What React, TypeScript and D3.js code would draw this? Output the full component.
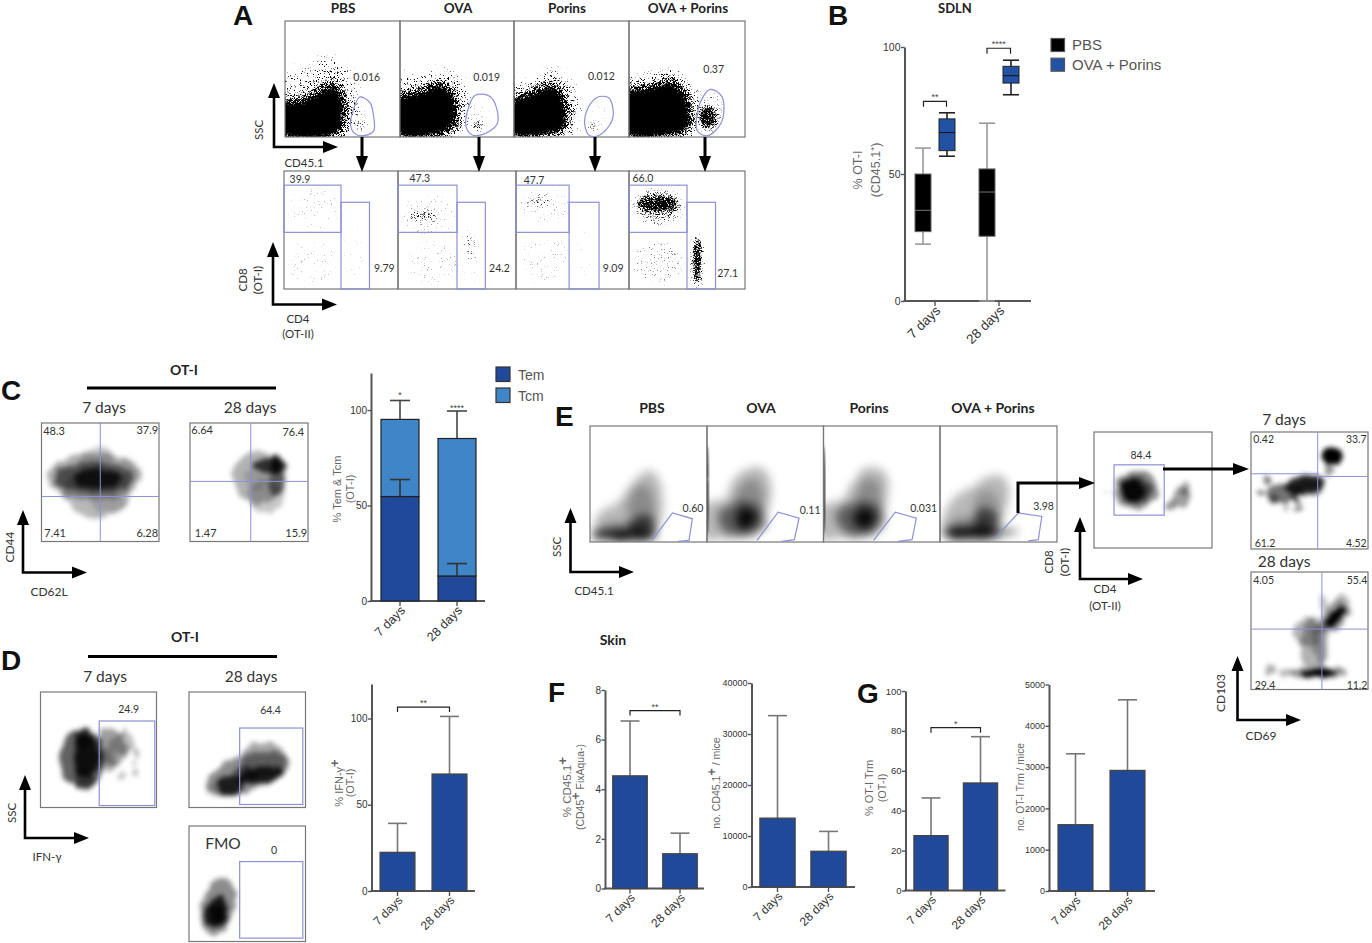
import React, { useEffect, useRef } from 'react';
import * as d3 from 'd3';

// --- values ---
const days = ['7 days', '28 days'];
const boxGroups = ['PBS', 'OVA + Porins'];
// [whisker low, q1, median, q3, whisker high]
const boxPbs = [[22.4, 27.3, 35.7, 50, 60.2], [0, 25.5, 42.9, 52, 70]];
const boxOvaPorins = [[57, 59.2, 66.3, 71.7, 74.1], [81.2, 85.8, 88.7, 92.4, 94.8]];

const temMean = [54.7, 13.1];
const temErr = [63.6, 19.6];
const tcmTop = [95.1, 85.1];
const tcmErr = [105, 99.5];

const ifnMean = [22.4, 67.8];
const ifnErr = [39.2, 101.2];
const cd45PctMean = [4.54, 1.4];
const cd45PctErr = [6.75, 2.23];
const cd45NoMean = [13500, 7000];
const cd45NoErr = [33600, 10900];
const trmPctMean = [27.5, 53.9];
const trmPctErr = [46.4, 77.1];
const trmNoMean = [1605, 2919];
const trmNoErr = [3322, 4629];

// flow plots: all in percent of the plot axes. blob = [cx, cy, rx, ry, weight, rotation]
type Blob = number[];
type Poly = { w: number; pts: number[][] };

const aHalos: Poly[] = [
  { w: 0.3, pts: [[-5, 1], [-5, 52], [18, 58], [35, 68], [52, 60], [62, 38], [60, 6], [50, 1]] },
  { w: 0.3, pts: [[-5, 1], [-5, 50], [20, 53], [37, 58], [52, 50], [60, 34], [55, 5], [40, 1]] },
  { w: 0.3, pts: [[-5, 1], [-5, 46], [18, 50], [35, 58], [48, 48], [56, 30], [52, 5], [35, 1]] },
  { w: 0.3, pts: [[-5, 1], [-5, 50], [18, 52], [35, 58], [50, 50], [60, 30], [58, 5], [44, 1]] },
];
const aCores: Poly[] = [
  { w: 1, pts: [[-5, 1], [-5, 30], [11, 32], [25, 38], [40, 47], [47, 44], [52, 33], [52, 13], [47, 1]] },
  { w: 1, pts: [[-5, 1], [-5, 33], [17, 40], [35, 47], [47, 40], [51, 22], [48, 8], [38, 1]] },
  { w: 1, pts: [[-5, 1], [-5, 30], [17, 40], [33, 47], [43, 37], [47, 19], [46, 6], [34, 1]] },
  { w: 1, pts: [[-5, 1], [-5, 40], [17, 44], [35, 50], [48, 40], [54, 22], [53, 6], [43, 1]] },
];
const aSpots: Blob[][] = [
  [[65, 10, 7, 4, 0.32], [66, 16, 8, 12, 0.1]],
  [[68, 10, 5, 4, 0.6], [69, 16, 9, 12, 0.12]],
  [[69, 9, 5, 5, 0.38], [72, 18, 8, 12, 0.1]],
  [[68, 17, 8, 10, 1], [70, 22, 11, 18, 0.25]],
];
const aTopGates = [
  [[65, 34.5], [74, 29.5], [77, 18], [77, 5], [67, 1], [60, 3.5], [57, 11], [60, 25]],
  [[66, 36], [79, 35], [85, 24], [85, 10.7], [72, 2], [63, 2], [58, 9], [60, 25]],
  [[72, 34], [82, 34], [86, 25], [85, 13.6], [75, 2], [66, 1], [62, 8], [63, 22]],
  [[70, 41], [80, 35], [81, 16.5], [75, 6], [67, 1], [59, 5], [58, 13.6], [62.5, 32]],
];
const aTopValues = ['0.016', '0.019', '0.012', '0.37'];
const aTopValuePos = [[71, 51], [76, 51], [76, 52], [73, 58]];

const aLow: Blob[][] = [
  [[28, 68, 24, 18, 0.1], [25, 22, 22, 20, 0.1], [62, 30, 10, 25, 0.07]],
  [[22, 62, 13, 5, 0.4], [26, 62, 23, 18, 0.13], [30, 22, 22, 18, 0.13], [62, 38, 7, 12, 0.3], [60, 18, 8, 14, 0.1]],
  [[19, 75, 12, 5, 0.3], [25, 70, 23, 14, 0.12], [25, 25, 22, 20, 0.12], [60, 30, 8, 20, 0.07]],
  [[25, 72, 17, 7, 1.1], [25, 70, 22, 15, 0.4], [25, 22, 22, 18, 0.2], [59, 25, 3.5, 20, 1], [59, 22, 6, 24, 0.3]],
];
const aCd8Width = [50, 50, 47, 50];
const aCd4Right = [75, 74, 73.5, 74.6];
const aLowValues = [['39.9', '9.79'], ['47.3', '24.2'], ['47.7', '9.09'], ['66.0', '27.1']];
const aLowValuePos = [[[14, 93], [88, 17.5]], [[18.5, 93.5], [86, 17]], [[16, 92], [86, 17]], [[12, 93.5], [85, 13.5]]];

const c7d: Blob[] = [[45, 55, 40, 20, 0.32], [47, 42, 28, 22, 0.28], [45, 54, 33, 13, 0.5], [48, 53, 21, 8, 0.75], [18, 55, 7, 9, 0.15], [76, 60, 9, 9, 0.15], [58, 32, 14, 8, 0.15], [48, 72, 14, 8, 0.2]];
const c28d: Blob[] = [[58, 54, 22, 22, 0.3], [64, 38, 14, 14, 0.22], [67, 64, 15, 6, 0.75], [73, 66, 6, 7, 0.85], [74, 50, 7, 11, 0.5], [56, 54, 10, 10, 0.15]];
const d7d: Blob[] = [[36, 42, 19, 26, 0.62], [39, 45, 11, 19, 0.85], [38, 24, 9, 9, 0.5], [38, 60, 8, 8, 0.5], [60, 52, 14, 16, 0.38], [70, 55, 12, 9, 0.25],
  [84, 48, 3, 3, 0.3], [82, 40, 2.5, 2.5, 0.3], [81, 30, 2.5, 2.5, 0.3], [70, 27, 2.5, 2.5, 0.25], [72, 65, 2, 4, 0.22], [57, 40, 9, 10, 0.3]];
const d28d: Blob[] = [[50, 30, 38, 15, 0.45, -18], [64, 42, 20, 15, 0.35], [35, 20, 11, 8, 0.8], [62, 28, 19, 7, 0.8, -10], [48, 28, 11, 9, 0.5], [22, 15, 10, 5, 0.2]];
const dFmo: Blob[] = [[25, 30, 14, 25, 0.45, 15], [24, 25, 10, 14, 0.85, 15], [24, 24, 6, 9, 0.8]];

const eCloudPbs: Poly[] = [{ w: 0.28, pts: [[4, 3], [8, 25], [24, 34], [35, 49], [52, 62], [61, 48], [60, 16], [54, 2]] }];
const eCloudOva: Poly[] = [{ w: 0.28, pts: [[-3, 3], [-3, 32], [16, 38], [23, 54], [40, 65], [53, 58], [52, 25], [42, 6], [17, 3]] }];
const eCloudPorins: Poly[] = [{ w: 0.28, pts: [[-3, 3], [-3, 32], [15, 36], [27, 54], [39, 65], [54, 58], [52, 25], [41, 6], [16, 3]] }];
const eCloudBoth: Poly[] = [{ w: 0.28, pts: [[4, 3], [7, 32], [25, 46], [49, 58], [59, 48], [53, 16], [50, 3]] }];
const eBlobs: Blob[][] = [
  [[28, 6, 26, 4, 0.95], [45, 12, 12, 11, 0.65], [44, 30, 11, 20, 0.25], [25, 10, 20, 7, 0.3]],
  [[33, 20, 9, 9, 0.9], [30, 20, 21, 15, 0.5], [37, 38, 11, 17, 0.25]],
  [[35, 20, 9, 9, 0.9], [32, 20, 21, 15, 0.5], [39, 38, 11, 17, 0.25]],
  [[26, 8, 24, 5, 0.95], [39, 18, 11, 12, 0.6], [40, 30, 11, 15, 0.2], [57, 8, 10, 3, 0.5, -10], [25, 14, 18, 8, 0.25]],
];
const eBars: Blob[][] = [[], [[0.3, 45, 0.9, 38, 1]], [[0.3, 45, 0.9, 38, 1]], []];
const eGates = [
  [[53, 1.4], [70.5, 25], [87.5, 20], [84.6, 1.4], [75.4, 0.5]],
  [[43, 1.4], [61, 25.7], [79, 20.6], [75, 2], [64, 0.5]],
  [[43, 1.4], [61.6, 25.7], [79.7, 20.6], [76, 2], [64, 0.5]],
  [[47, 3.4], [67, 25], [87, 22], [84, 2], [75.4, 1]],
];
const eValues = ['0.60', '0.11', '0.031', '3.98'];
const eValuePos = [[88, 29], [88.5, 27], [86, 29], [88.5, 31]];
const eMid: Blob[] = [[36, 50, 19, 16, 0.45], [33, 50, 10, 10, 0.9], [35, 50, 14, 12, 0.55], [74, 44, 8, 9, 0.38], [77, 51, 4, 5, 0.35], [66, 36, 5, 4, 0.4], [12, 48, 1.2, 1.2, 0.3]];
const e7d: Blob[] = [[69, 80, 9, 7, 1], [67.4, 67, 3, 6, 0.45], [46, 55, 17, 8, 0.85, -10], [28, 48, 15, 8, 0.55, -5], [50, 52, 12, 7, 0.4],
  [12.7, 59, 3, 3.5, 0.55], [8.8, 49, 3, 3, 0.55], [29, 35.7, 2.5, 2.5, 0.45], [40.5, 35, 2.5, 2.5, 0.5], [37.4, 43, 3.5, 4.5, 0.65], [20, 42, 4, 4, 0.55]];
const e28d: Blob[] = [[72, 62, 12, 4.5, 1, -45], [71, 62, 16, 9, 0.4, -45], [57.5, 14, 16, 3.5, 1], [57, 14, 24, 5, 0.4], [53, 36, 11, 24, 0.3],
  [48, 48, 11, 12, 0.3], [62, 73, 4, 6, 0.25], [78, 76, 6, 4, 0.28], [60, 40, 7, 18, 0.25], [16, 15.6, 4.5, 4.5, 0.32], [31, 14, 6, 2.5, 0.28]];

// --- helpers ---
const FLOW_FONT = 'Lato, sans-serif';
const CHART_FONT = '"Liberation Sans", Arial, sans-serif';
const GATE = '#8d90d6';
const BLUE = '#21499a';
const SKY = '#3f85c8';

type Sel = d3.Selection<any, any, any, any>;
let clipId = 0;

function addGrain(defs: Sel, id: string, sigma: number, seed: number, slope: number) {
  const f = defs.append('filter').attr('id', id).attr('x', '-40%').attr('y', '-40%').attr('width', '180%').attr('height', '180%')
    .attr('color-interpolation-filters', 'sRGB');
  f.append('feGaussianBlur').attr('in', 'SourceAlpha').attr('stdDeviation', sigma).attr('result', 'blur');
  f.append('feTurbulence').attr('type', 'fractalNoise').attr('baseFrequency', 1.7).attr('numOctaves', 1).attr('seed', seed).attr('result', 'raw');
  f.append('feColorMatrix').attr('in', 'raw').attr('type', 'matrix')
    .attr('values', '0 0 0 0 0  0 0 0 0 0  0 0 0 0 0  2.2 0 0 0 -0.6').attr('result', 'noise');
  f.append('feComposite').attr('in', 'blur').attr('in2', 'noise').attr('operator', 'arithmetic')
    .attr('k1', 0).attr('k2', 1).attr('k3', 1).attr('k4', -1).attr('result', 'mix');
  const t = f.append('feComponentTransfer').attr('in', 'mix');
  t.append('feFuncA').attr('type', 'linear').attr('slope', slope).attr('intercept', 0);
}

function addLumpy(defs: Sel, id: string, sigma: number, warp: number) {
  const f = defs.append('filter').attr('id', id).attr('x', '-40%').attr('y', '-40%').attr('width', '180%').attr('height', '180%')
    .attr('color-interpolation-filters', 'sRGB');
  f.append('feTurbulence').attr('type', 'fractalNoise').attr('baseFrequency', 0.09).attr('numOctaves', 2).attr('seed', 5).attr('result', 'warp');
  f.append('feDisplacementMap').attr('in', 'SourceGraphic').attr('in2', 'warp').attr('scale', warp)
    .attr('xChannelSelector', 'R').attr('yChannelSelector', 'G').attr('result', 'moved');
  f.append('feGaussianBlur').attr('in', 'moved').attr('stdDeviation', sigma);
}

function addSolid(defs: Sel, id: string) {
  const f = defs.append('filter').attr('id', id).attr('x', '-40%').attr('y', '-40%').attr('width', '180%').attr('height', '180%');
  f.append('feMorphology').attr('in', 'SourceGraphic').attr('operator', 'erode').attr('radius', 4).attr('result', 'thin');
  f.append('feGaussianBlur').attr('in', 'thin').attr('stdDeviation', 1.5);
}

function txt(svg: Sel, x: number, y: number, s: string, size: number, opts: any = {}) {
  return svg.append('text').attr('x', x).attr('y', y).attr('text-anchor', opts.anchor || 'middle')
    .attr('font-family', opts.font || FLOW_FONT).attr('font-size', size)
    .attr('font-weight', opts.weight || 'normal').attr('fill', opts.fill || '#333').text(s);
}

function rotated(svg: Sel, x: number, y: number, s: string, size: number, opts: any = {}) {
  const t = svg.append('text').attr('transform', `translate(${x},${y}) rotate(-90)`).attr('text-anchor', 'middle')
    .attr('font-family', opts.font || FLOW_FONT).attr('font-size', size).attr('fill', opts.fill || '#333');
  s.split('^').forEach((part, i) => {
    if (i > 0) {
      t.append('tspan').attr('dy', -4).attr('font-weight', 'bold').attr('font-size', size + 2).text('+');
      t.append('tspan').attr('dy', 4).text(part.slice(1));
    } else t.append('tspan').text(part);
  });
  return t;
}

function lArrow(svg: Sel, ox: number, oy: number, top: number, right: number) {
  svg.append('path').attr('d', `M${ox},${top + 10}V${oy}H${right - 10}`).attr('fill', 'none').attr('stroke', '#000').attr('stroke-width', 2.6);
  svg.append('path').attr('d', `M${ox},${top}l6,15h-12z M${right},${oy}l-15,-6v12z`).attr('fill', '#000');
}

function downArrow(svg: Sel, x: number, y0: number, y1: number) {
  svg.append('path').attr('d', `M${x},${y0}V${y1 - 10}`).attr('stroke', '#000').attr('stroke-width', 3);
  svg.append('path').attr('d', `M${x},${y1}l-6,-16h12z`).attr('fill', '#000');
}

function rightArrow(svg: Sel, d: string, tipX: number, tipY: number) {
  svg.append('path').attr('d', d).attr('fill', 'none').attr('stroke', '#000').attr('stroke-width', 3);
  svg.append('path').attr('d', `M${tipX},${tipY}l-16,-6v12z`).attr('fill', '#000');
}

function flowPanel(svg: Sel, box: number[], cfg: any) {
  const [x0, x1, y0, y1] = box;
  const x = d3.scaleLinear().domain([0, 100]).range([x0, x1]);
  const y = d3.scaleLinear().domain([0, 100]).range([y1, y0]);
  const id = `clip${clipId++}`;
  svg.append('clipPath').attr('id', id).append('rect').attr('x', x0).attr('y', y0).attr('width', x1 - x0).attr('height', y1 - y0);
  const outer = svg.append('g').attr('clip-path', `url(#${id})`);
  const shapeLine = d3.line<number[]>().x(d => x(d[0])).y(d => y(d[1])).curve(d3.curveCatmullRomClosed);

  (cfg.layers || []).forEach((layer: any) => {
    const g = outer.append('g').attr('filter', `url(#${layer.filter})`);
    (layer.polys || []).forEach((p: Poly) => {
      g.append('path').attr('d', shapeLine(p.pts)).attr('fill', '#000').attr('fill-opacity', p.w);
    });
    g.selectAll('ellipse').data(layer.blobs || []).enter().append('ellipse')
      .attr('cx', (d: any) => x(d[0])).attr('cy', (d: any) => y(d[1]))
      .attr('rx', (d: any) => x(d[2]) - x(0)).attr('ry', (d: any) => y(0) - y(d[3]))
      .attr('fill', '#000').attr('fill-opacity', (d: any) => Math.min(d[4], 1))
      .attr('transform', (d: any) => `rotate(${d[5] || 0} ${x(d[0])} ${y(d[1])})`);
  });

  svg.append('rect').attr('x', x0).attr('y', y0).attr('width', x1 - x0).attr('height', y1 - y0)
    .attr('fill', 'none').attr('stroke', '#777').attr('stroke-width', 1.2);

  (cfg.rects || []).forEach((r: number[]) => {
    svg.append('rect').attr('x', x(r[0])).attr('y', y(r[3])).attr('width', x(r[1]) - x(r[0])).attr('height', y(r[2]) - y(r[3]))
      .attr('fill', 'none').attr('stroke', GATE).attr('stroke-width', 1.2);
  });
  if (cfg.gate) {
    const closed = cfg.closed !== false;
    const gl = d3.line<number[]>().x(d => x(d[0])).y(d => y(d[1])).curve(closed ? d3.curveCatmullRomClosed : d3.curveLinear);
    svg.append('path').attr('d', gl(cfg.gate)).attr('fill', 'none').attr('stroke', GATE).attr('stroke-width', 1.2);
  }
  (cfg.quad || []).forEach((q: number[]) => {
    svg.append('line').attr('x1', x(q[0])).attr('x2', x(q[1])).attr('y1', y(q[2])).attr('y2', y(q[3]))
      .attr('stroke', GATE).attr('stroke-width', 1);
  });
  (cfg.labels || []).forEach((l: string, i: number) => {
    const p = cfg.labelPos[i];
    txt(svg, x(p[0]), y(p[1]) + 3.5, l, cfg.labelSize || 10.5);
  });
}

function styleAxis(g: Sel, size: number, weight = 'normal') {
  g.select('.domain').attr('stroke', '#555').attr('stroke-width', 2);
  g.selectAll('.tick line').attr('stroke', '#555').attr('stroke-width', 1.4);
  g.selectAll('text').attr('font-family', CHART_FONT).attr('font-size', size).attr('fill', '#333').attr('font-weight', weight);
}

// common frame of the small graphs: returns the band and value scales
function chartAxes(svg: Sel, c: any) {
  const step = c.c2 - c.c1;
  const gap = 1 - c.barFrac;
  const x = d3.scaleBand<string>().domain(days).range([c.c1 - step / 2, c.c2 + step / 2]).paddingInner(gap).paddingOuter(gap / 2);
  const y = d3.scaleLinear().domain([0, c.yMax]).range([c.y0, c.yTop]);

  const yAxis = svg.append('g').attr('transform', `translate(${c.axisX},0)`)
    .call(d3.axisLeft(y).tickValues(c.ticks).tickSize(3.5).tickSizeOuter(0).tickPadding(0.5).tickFormat(d3.format('d')) as any);
  styleAxis(yAxis, c.tickSize || 10);

  const xAxis = svg.append('g').attr('transform', `translate(0,${c.y0})`)
    .call(d3.axisBottom(x).tickSize(5).tickSizeOuter(0) as any);
  styleAxis(xAxis, c.dayFont || 12);
  xAxis.select('.domain').remove();
  xAxis.selectAll('text').attr('text-anchor', 'end').attr('transform', 'rotate(-45)').attr('x', -3).attr('y', 7).attr('dy', '0.35em');
  svg.append('line').attr('x1', c.axisX - 1).attr('x2', c.axisEnd).attr('y1', c.y0).attr('y2', c.y0).attr('stroke', '#555').attr('stroke-width', 2);
  return { x, y };
}

function errorBar(svg: Sel, cx: number, from: number, to: number, cap: number, color = '#777') {
  svg.append('line').attr('x1', cx).attr('x2', cx).attr('y1', from).attr('y2', to).attr('stroke', color).attr('stroke-width', 1.6);
  svg.append('line').attr('x1', cx - cap / 2).attr('x2', cx + cap / 2).attr('y1', to).attr('y2', to).attr('stroke', color).attr('stroke-width', 1.6);
}

function bracket(svg: Sel, x1: number, x2: number, yTop: number, tip: number, stars: string, size = 9) {
  svg.append('path').attr('d', `M${x1},${yTop + tip}V${yTop}H${x2}V${yTop + tip}`).attr('fill', 'none').attr('stroke', '#222').attr('stroke-width', 1.2);
  txt(svg, (x1 + x2) / 2, yTop - 1, stars, size, { font: CHART_FONT, fill: '#444' });
}

function barChart(svg: Sel, c: any) {
  const { x, y } = chartAxes(svg, c);
  const mid = (d: string) => (x(d) as number) + x.bandwidth() / 2;
  days.forEach((d, i) => {
    errorBar(svg, mid(d), y(c.means[i]), y(c.errs[i]), 19);
  });
  svg.selectAll(null).data(days).enter().append('rect')
    .attr('x', (d: string) => x(d) as number).attr('width', x.bandwidth())
    .attr('y', (_: string, i: number) => y(c.means[i]))
    .attr('height', (_: string, i: number) => c.y0 - y(c.means[i]))
    .attr('fill', BLUE).attr('stroke', '#444').attr('stroke-width', 1.3);
  if (c.bracketAt !== undefined) {
    bracket(svg, mid(days[0]), mid(days[1]), y(c.bracketAt), 5, c.stars);
  }
}

function drawB(svg: Sel) {
  const c = { c1: 935, c2: 999, barFrac: 0.7, yMax: 100, y0: 301, yTop: 47, axisX: 904.5, axisEnd: 1031, ticks: [0, 50, 100], tickSize: 10.5, dayFont: 13.5 };
  const { y } = chartAxes(svg, c);
  const centre = d3.scaleBand<string>().domain(days).range([c.c1 - 32, c.c2 + 32]);
  const inner = d3.scaleBand<string>().domain(boxGroups).range([-24, 24]).paddingInner(1 / 3).paddingOuter(1 / 6);
  const boxW = inner.bandwidth();

  const drawBox = (group: string, values: number[][], fill: string, whisker: string, med: string) => {
    days.forEach((d, i) => {
      const [lo, q1, m, q3, hi] = values[i];
      const cx = (centre(d) as number) + centre.bandwidth() / 2 + (inner(group) as number) + boxW / 2;
      svg.append('line').attr('x1', cx).attr('x2', cx).attr('y1', y(lo)).attr('y2', y(hi)).attr('stroke', whisker).attr('stroke-width', 1.6);
      [lo, hi].forEach(v => svg.append('line').attr('x1', cx - 8).attr('x2', cx + 8).attr('y1', y(v)).attr('y2', y(v)).attr('stroke', whisker).attr('stroke-width', 1.6));
      svg.append('rect').attr('x', cx - boxW / 2).attr('width', boxW).attr('y', y(q3)).attr('height', y(q1) - y(q3))
        .attr('fill', fill).attr('stroke', fill === '#000' ? '#666' : '#222').attr('stroke-width', 1);
      svg.append('line').attr('x1', cx - boxW / 2).attr('x2', cx + boxW / 2).attr('y1', y(m)).attr('y2', y(m)).attr('stroke', med).attr('stroke-width', 1);
    });
  };
  drawBox(boxGroups[0], boxPbs, '#000', '#999', '#777');
  drawBox(boxGroups[1], boxOvaPorins, '#2352a5', '#222', '#111');

  bracket(svg, 923.5, 946.5, y(78.6), 5.5, '**');
  bracket(svg, 987, 1010.5, y(99.5), 5.5, '****');

  rotated(svg, 862, 170, '% OT-I', 12.5, { font: CHART_FONT, fill: '#666' });
  rotated(svg, 880, 170, '(CD45.1⁺)', 12.5, { font: CHART_FONT, fill: '#666' });
  txt(svg, 955, 13, 'SDLN', 13, { weight: 'bold', fill: '#222' });

  boxGroups.forEach((g, i) => {
    svg.append('rect').attr('x', 1051).attr('y', 38.5 + i * 19.7).attr('width', 13.5).attr('height', 13)
      .attr('fill', i ? '#2352a5' : '#000').attr('stroke', '#555').attr('stroke-width', 1.2);
    txt(svg, 1072, 50 + i * 20, g, 15, { anchor: 'start', font: CHART_FONT, fill: '#555' });
  });
}

function drawCStack(svg: Sel) {
  const c = { c1: 400, c2: 457, barFrac: 0.667, yMax: 119.4, y0: 601, yTop: 373, axisX: 371, axisEnd: 485, ticks: [0, 50, 100], dayFont: 12.5 };
  const { x, y } = chartAxes(svg, c);
  const stacked = d3.stack<number>().keys(['tem', 'tcm'])
    .value((i, k) => (k === 'tem' ? temMean[i] : tcmTop[i] - temMean[i]))(days.map((_, i) => i));
  days.forEach((d, i) => {
    const cx = (x(d) as number) + x.bandwidth() / 2;
    errorBar(svg, cx, y(tcmTop[i]), y(tcmErr[i]), 20, '#444');
  });
  stacked.forEach((series, k) => {
    series.forEach((pt, i) => {
      svg.append('rect').attr('x', x(days[i]) as number).attr('width', x.bandwidth())
        .attr('y', y(pt[1])).attr('height', y(pt[0]) - y(pt[1]))
        .attr('fill', k ? SKY : BLUE).attr('stroke', '#222').attr('stroke-width', 1.2);
    });
  });
  days.forEach((d, i) => {
    const cx = (x(d) as number) + x.bandwidth() / 2;
    errorBar(svg, cx, y(temMean[i]), y(temErr[i]), 20, '#333');
  });
  txt(svg, 400, 398, '*', 9, { font: CHART_FONT, fill: '#444' });
  txt(svg, 457, 411, '****', 9, { font: CHART_FONT, fill: '#444' });
  rotated(svg, 341, 489, '% Tem & Tcm', 11, { font: CHART_FONT, fill: '#666' });
  rotated(svg, 354, 489, '(OT-I)', 11, { font: CHART_FONT, fill: '#666' });
  ['Tem', 'Tcm'].forEach((t, i) => {
    svg.append('rect').attr('x', 496).attr('y', 367 + i * 21).attr('width', 14).attr('height', 14.5)
      .attr('fill', i ? SKY : BLUE).attr('stroke', '#333').attr('stroke-width', 1.2);
    txt(svg, 518, 379.5 + i * 21, t, 14, { anchor: 'start', font: CHART_FONT, fill: '#555' });
  });
}

function drawAll(svg: Sel) {
  const defs = svg.append('defs');
  addGrain(defs, 'grainCore', 6, 4, 5);
  addGrain(defs, 'grainFine', 2.5, 9, 2.6);
  addLumpy(defs, 'smooth', 2.8, 9);
  addLumpy(defs, 'soft', 5, 5);
  addLumpy(defs, 'edge', 1.2, 2);
  addSolid(defs, 'solid');

  // letters
  [['A', 233, 25], ['B', 828, 25], ['C', 1, 400], ['D', 1, 670], ['E', 555, 426], ['F', 548, 702], ['G', 857, 703]].forEach(l => {
    txt(svg, l[1] as number, l[2] as number, l[0] as string, 28, { anchor: 'start', font: CHART_FONT, weight: 'bold', fill: '#111' });
  });

  // panel A
  const groupNames = ['PBS', 'OVA', 'Porins', 'OVA + Porins'];
  [343, 458, 567, 688].forEach((cx, i) => txt(svg, cx, 13, groupNames[i], 13.5, { weight: 'bold', fill: '#222' }));
  const aTopX = [285, 400, 514, 629, 745];
  aCores.forEach((core, i) => {
    flowPanel(svg, [aTopX[i], aTopX[i + 1], 21, 137], {
      layers: [
        { filter: 'grainCore', polys: [aHalos[i], core] },
        { filter: 'solid', polys: [core] },
        { filter: 'grainFine', blobs: aSpots[i] },
      ],
      gate: aTopGates[i], labels: [aTopValues[i]], labelPos: [aTopValuePos[i]], labelSize: 10.5,
    });
  });
  const aLowX = [284, 398, 516, 629, 745];
  aLow.forEach((blobs, i) => {
    flowPanel(svg, [aLowX[i], aLowX[i + 1], 171, 289], {
      layers: [{ filter: 'grainFine', blobs }],
      rects: [[0, aCd8Width[i], 48, 88], [aCd8Width[i], aCd4Right[i], 0, 73.5]],
      labels: aLowValues[i], labelPos: aLowValuePos[i],
    });
  });
  [362, 479, 595, 705].forEach(x => downArrow(svg, x, 137, 172));
  lArrow(svg, 274, 147, 83, 338);
  rotated(svg, 263, 130, 'SSC', 11.5);
  txt(svg, 304, 167, 'CD45.1', 11.5);
  lArrow(svg, 273, 304.5, 242, 337);
  rotated(svg, 247, 280, 'CD8', 11.5);
  rotated(svg, 262, 280, '(OT-I)', 11.5);
  txt(svg, 298, 323, 'CD4', 11.5);
  txt(svg, 298, 338, '(OT-II)', 11.5);

  drawB(svg);

  // panel C
  txt(svg, 184, 375, 'OT-I', 14, { weight: 'bold', fill: '#222' });
  svg.append('line').attr('x1', 87).attr('x2', 276).attr('y1', 388).attr('y2', 388).attr('stroke', '#000').attr('stroke-width', 3);
  txt(svg, 104, 413, '7 days', 15.5);
  txt(svg, 250, 413, '28 days', 15.5);
  flowPanel(svg, [41.5, 159, 423, 541.5], {
    layers: [{ filter: 'smooth', blobs: c7d }], quad: [[50, 50, 0, 100], [0, 100, 38, 38]],
    labels: ['48.3', '37.9', '7.41', '6.28'], labelPos: [[10.7, 93], [90, 94], [11.6, 6.5], [90, 6.5]], labelSize: 11,
  });
  flowPanel(svg, [190, 308, 423, 541.5], {
    layers: [{ filter: 'smooth', blobs: c28d }], quad: [[51.5, 51.5, 0, 100], [0, 100, 50.7, 50.7]],
    labels: ['6.64', '76.4', '1.47', '15.9'], labelPos: [[10.3, 93.5], [87.6, 91.8], [13.3, 6.5], [90, 6.5]], labelSize: 11,
  });
  lArrow(svg, 23, 572.5, 510, 87);
  rotated(svg, 14, 547, 'CD44', 12);
  txt(svg, 49, 596, 'CD62L', 12);
  drawCStack(svg);

  // panel D
  txt(svg, 185, 642, 'OT-I', 14, { weight: 'bold', fill: '#222' });
  svg.append('line').attr('x1', 88).attr('x2', 277).attr('y1', 656.5).attr('y2', 656.5).attr('stroke', '#000').attr('stroke-width', 3);
  txt(svg, 105, 682, '7 days', 15.5);
  txt(svg, 251, 682, '28 days', 15.5);
  flowPanel(svg, [40.5, 156.5, 692, 807.5], {
    layers: [{ filter: 'smooth', blobs: d7d }], rects: [[50.6, 98.5, 1.7, 74.9]],
    labels: ['24.9'], labelPos: [[76, 85]],
  });
  flowPanel(svg, [189, 305.5, 692, 807.5], {
    layers: [{ filter: 'smooth', blobs: d28d }], rects: [[43.5, 97.7, 2.6, 68.8]],
    labels: ['64.4'], labelPos: [[70, 84]],
  });
  flowPanel(svg, [189, 305.5, 826, 941.5], {
    layers: [{ filter: 'smooth', blobs: dFmo }], rects: [[43.5, 97.7, 2.9, 69.2]],
    labels: ['0'], labelPos: [[73, 79]],
  });
  txt(svg, 223, 849, 'FMO', 15.5);
  lArrow(svg, 25, 838, 775, 89);
  rotated(svg, 16, 813, 'SSC', 11.5);
  txt(svg, 47, 861, 'IFN-γ', 11.5);
  barChart(svg, { c1: 397.5, c2: 449.5, barFrac: 0.67, yMax: 120, y0: 891, yTop: 684, axisX: 371.5, axisEnd: 475, ticks: [0, 50, 100], means: ifnMean, errs: ifnErr, bracketAt: 106.6, stars: '**' });
  rotated(svg, 343, 783, '% IFN-γ^+', 11, { font: CHART_FONT, fill: '#666' });
  rotated(svg, 354, 783, '(OT-I)', 11, { font: CHART_FONT, fill: '#666' });

  // panel E
  [652, 761, 869, 993].forEach((cx, i) => txt(svg, cx, 413, groupNames[i], 14, { weight: 'bold', fill: '#222' }));
  const eX = [590, 707, 823.5, 940, 1057];
  [eCloudPbs, eCloudOva, eCloudPorins, eCloudBoth].forEach((cloud, i) => {
    flowPanel(svg, [eX[i], eX[i + 1], 426, 542], {
      layers: [{ filter: 'soft', polys: cloud, blobs: eBlobs[i] }, { filter: 'edge', blobs: eBars[i] }], gate: eGates[i], closed: false,
      labels: [eValues[i]], labelPos: [eValuePos[i]],
    });
  });
  lArrow(svg, 570.5, 572, 508, 634);
  rotated(svg, 561, 547, 'SSC', 11.5);
  txt(svg, 594, 595, 'CD45.1', 11.5);
  txt(svg, 613, 645, 'Skin', 14, { weight: 'bold', fill: '#222' });
  flowPanel(svg, [1094, 1212, 432, 548], {
    layers: [{ filter: 'smooth', blobs: eMid }], rects: [[17, 59.5, 28.3, 71.7]],
    labels: ['84.4'], labelPos: [[39.7, 80]],
  });
  rightArrow(svg, 'M1018,513V483H1083', 1095, 483);
  rightArrow(svg, 'M1163,469H1236', 1249, 469);
  lArrow(svg, 1080, 579, 517, 1143);
  rotated(svg, 1053, 562, 'CD8', 11.5);
  rotated(svg, 1069, 562, '(OT-I)', 11.5);
  txt(svg, 1105, 593, 'CD4', 11.5);
  txt(svg, 1105, 610, '(OT-II)', 11.5);
  txt(svg, 1284, 425, '7 days', 15.5);
  txt(svg, 1284, 567, '28 days', 15.5);
  flowPanel(svg, [1251, 1368, 432, 549], {
    layers: [{ filter: 'smooth', blobs: e7d }], quad: [[57, 57, 0, 100], [0, 57, 64.3, 64.3], [57, 100, 62, 62]],
    labels: ['0.42', '33.7', '61.2', '4.52'], labelPos: [[10.8, 94], [90, 93.5], [12, 5], [90, 5]],
  });
  flowPanel(svg, [1251, 1368, 572, 689.5], {
    layers: [{ filter: 'smooth', blobs: e28d }], quad: [[60.6, 60.6, 0, 100], [0, 100, 51.4, 51.4]],
    labels: ['4.05', '55.4', '29.4', '11.2'], labelPos: [[10.8, 93], [90.6, 93], [12, 3.7], [90.6, 3.7]],
  });
  lArrow(svg, 1237.5, 720, 656, 1301);
  rotated(svg, 1225, 693, 'CD103', 12);
  txt(svg, 1261, 740, 'CD69', 12);

  // panels F and G
  barChart(svg, { c1: 630, c2: 680, barFrac: 0.69, yMax: 8, y0: 888.5, yTop: 690, axisX: 605, axisEnd: 704, ticks: [0, 2, 4, 6, 8], means: cd45PctMean, errs: cd45PctErr, bracketAt: 7.17, stars: '**' });
  rotated(svg, 571, 787, '% CD45.1^+', 11.5, { font: CHART_FONT, fill: '#666' });
  rotated(svg, 584, 787, '(CD45^+ FixAqua-)', 10.5, { font: CHART_FONT, fill: '#666' });
  barChart(svg, { c1: 777.5, c2: 828.5, barFrac: 0.69, yMax: 40000, y0: 887, yTop: 683, axisX: 751.5, axisEnd: 855, ticks: [0, 10000, 20000, 30000, 40000], tickSize: 9, means: cd45NoMean, errs: cd45NoErr });
  rotated(svg, 719.5, 783, 'no. CD45.1^+ / mice', 10.5, { font: CHART_FONT, fill: '#666' });
  barChart(svg, { c1: 931, c2: 980.5, barFrac: 0.69, yMax: 100, y0: 890.5, yTop: 691, axisX: 905.5, axisEnd: 1005.5, ticks: [0, 20, 40, 60, 80, 100], tickSize: 9.5, means: trmPctMean, errs: trmPctErr, bracketAt: 81.6, stars: '*' });
  rotated(svg, 873, 788, '% OT-I Trm', 11, { font: CHART_FONT, fill: '#666' });
  rotated(svg, 886, 788, '(OT-I)', 11, { font: CHART_FONT, fill: '#666' });
  barChart(svg, { c1: 1075.5, c2: 1127.5, barFrac: 0.67, yMax: 5000, y0: 891, yTop: 684.5, axisX: 1049, axisEnd: 1155, ticks: [0, 1000, 2000, 3000, 4000, 5000], tickSize: 9, means: trmNoMean, errs: trmNoErr });
  rotated(svg, 1024, 787, 'no. OT-I Trm / mice', 10.3, { font: CHART_FONT, fill: '#666' });
}

const App = () => {
  const svgRef = useRef<SVGSVGElement>(null);

  useEffect(() => {
    const svg = d3.select(svgRef.current);
    svg.selectAll('*').remove();
    clipId = 0;
    drawAll(svg as any);
  }, []);

  return <svg ref={svgRef} width={1372} height={943} style={{ position: 'absolute', left: 0, top: 0, background: '#fff' }} />;
};

export default App;
